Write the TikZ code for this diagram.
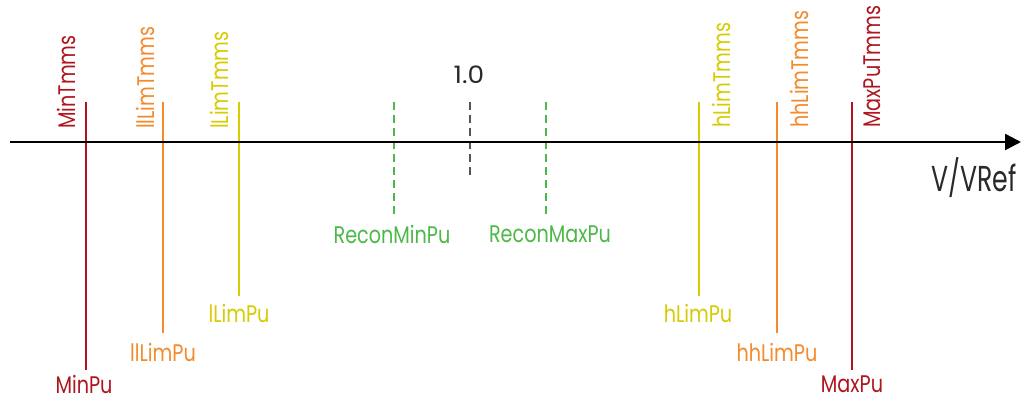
\documentclass[tikz,border=0pt]{standalone}
\usepackage{fontspec}
\usetikzlibrary{arrows.meta}
\setmainfont{Poppins}[FakeStretch=0.8]
\newfontfamily\vfont{Poppins}[FakeStretch=0.7]
\newfontfamily\onefont{Poppins}[FakeStretch=1.1]
\definecolor{cred}{HTML}{B0151F}
\definecolor{corange}{HTML}{F58A2C}
\definecolor{cyellow}{HTML}{D6CC00}
\definecolor{cgreen}{HTML}{4DB848}
\definecolor{cgray}{HTML}{555555}
\definecolor{ctext}{HTML}{2A2A2A}
\begin{document}
\begin{tikzpicture}[x=1pt,y=-1pt,
  lbl/.style={inner sep=0pt, font=\fontsize{24}{28}\selectfont},
  rlbl/.style={lbl, rotate=90, anchor=base west},
  solidline/.style={line width=2.6pt},
  dashline/.style={line width=2.6pt, dash pattern=on 8pt off 5pt},
  axis/.style={line width=2.4pt, -{Triangle[length=16pt,width=16pt]}}]
\useasboundingbox[fill=white] (0,0) rectangle (1021,401);
% axis
\coordinate (a0) at (10,142);
\coordinate (a1) at (1021,142);
% tops and bottoms
\coordinate (minT) at (86,102);   \coordinate (minB) at (86,370);
\coordinate (llT) at (163,102);   \coordinate (llB) at (163,333);
\coordinate (lT) at (239,102);    \coordinate (lB) at (239,296);
\coordinate (rminT) at (394,102); \coordinate (rminB) at (394,218);
\coordinate (oneT) at (470,102);  \coordinate (oneB) at (470,175);
\coordinate (rmaxT) at (546,102); \coordinate (rmaxB) at (546,218);
\coordinate (hT) at (699,102);    \coordinate (hB) at (699,296);
\coordinate (hhT) at (777,102);   \coordinate (hhB) at (777,333);
\coordinate (maxT) at (852,102);  \coordinate (maxB) at (852,370);
% lines
\draw[solidline, cred] (minT) -- (minB);
\draw[solidline, corange] (llT) -- (llB);
\draw[solidline, cyellow] (lT) -- (lB);
\draw[dashline, cgreen] (rminT) -- (rminB);
\draw[dashline, cgray] (oneT) -- (oneB);
\draw[dashline, cgreen] (rmaxT) -- (rmaxB);
\draw[solidline, cyellow] (hT) -- (hB);
\draw[solidline, corange] (hhT) -- (hhB);
\draw[solidline, cred] (maxT) -- (maxB);
\draw[axis] (a0) -- (a1);
% rotated labels
\node[rlbl, text=cred] (minTm) at (75,129) {MinTmms};
\node[rlbl, text=corange] (llTm) at (154,129) {llLimTmms};
\node[rlbl, text=cyellow] (lTm) at (228,129) {lLimTmms};
\node[rlbl, text=cyellow] (hTm) at (730,128) {hLimTmms};
\node[rlbl, text=corange] (hhTm) at (808,128) {hhLimTmms};
\node[rlbl, text=cred] (maxTm) at (880,128) {MaxPuTmms};
% bottom labels
\node[lbl, text=cred] (minPu) at (84,384) {MinPu};
\node[lbl, text=corange] (llPu) at (163,352) {llLimPu};
\node[lbl, text=cyellow] (lPu) at (239,313) {lLimPu};
\node[lbl, text=cgreen] (rminPu) at (392,234) {ReconMinPu};
\node[lbl, text=cgreen] (rmaxPu) at (550,234) {ReconMaxPu};
\node[lbl, text=cyellow] (hPu) at (698,313) {hLimPu};
\node[lbl, text=corange] (hhPu) at (777,352) {hhLimPu};
\node[lbl, text=cred] (maxPu) at (852,384) {MaxPu};
\node[lbl, text=ctext, font=\onefont\fontsize{24}{28}\selectfont] (one) at (469,75) {1.0};
\node[lbl, text=ctext, font=\vfont\fontsize{36}{42}\selectfont] (vref) at (974,178) {V/VRef};
\end{tikzpicture}
\end{document}
